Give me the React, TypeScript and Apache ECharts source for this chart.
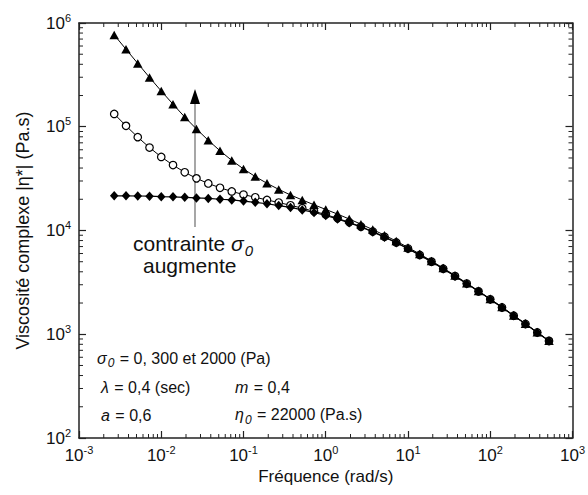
import React, { useEffect, useRef } from "react";
import * as echarts from "echarts";

const frequencies = [0.00268, 0.00373, 0.00518, 0.0072, 0.01, 0.0139, 0.0193, 0.0268, 0.0373, 0.0518, 0.072, 0.1, 0.139, 0.193, 0.268, 0.373, 0.518, 0.72, 1, 1.39, 1.93, 2.68, 3.73, 5.18, 7.2, 10, 13.9, 19.3, 26.8, 37.3, 51.8, 72, 100, 139, 193, 268, 373, 518];

const etaSigma0 = [21600, 21600, 21500, 21400, 21200, 21100, 20900, 20600, 20400, 20000, 19700, 19200, 18700, 18100, 17400, 16700, 15800, 14900, 13950, 12900, 11850, 10800, 9690, 8630, 7620, 6670, 5790, 4990, 4270, 3630, 3070, 2590, 2170, 1810, 1510, 1255, 1040, 862];

const etaSigma300 = [133000, 102000, 79400, 63000, 51200, 42700, 36400, 31800, 28400, 25800, 23800, 22200, 20900, 19700, 18600, 17500, 16400, 15300, 14250, 13100, 12000, 10900, 9770, 8690, 7670, 6700, 5810, 5010, 4280, 3640, 3080, 2590, 2170, 1810, 1510, 1256, 1042, 863];

const etaSigma2000 = [767000, 558000, 408000, 299000, 221000, 165000, 124000, 95200, 74000, 58700, 47400, 39200, 33100, 28500, 24900, 22000, 19700, 17700, 15950, 14400, 12900, 11500, 10200, 9020, 7900, 6870, 5940, 5090, 4340, 3690, 3110, 2610, 2190, 1830, 1520, 1262, 1046, 866];

const xMin = 0.001;
const xMax = 1000;
const yMin = 100;
const yMax = 1000000;

const FONT = "'Liberation Sans', Arial, Helvetica, sans-serif";

const pairs = (ys: number[]) => frequencies.map((f, i) => [f, ys[i]]);

const tickRich = {
  b: { fontSize: 17, lineHeight: 22, color: "#111", fontFamily: FONT },
  s: { fontSize: 11, lineHeight: 11, verticalAlign: "top", color: "#111", fontFamily: FONT },
};

const powLabel = (v: number) => {
  const e = Math.round(Math.log10(v));
  return `{b|10}{s|${e}}`;
};

type Seg = { t: string; size: number; italic?: boolean; dy?: number };

export default function App() {
  const ref = useRef<HTMLDivElement>(null);
  useEffect(() => {
    if (!ref.current) return;
    const chart = echarts.init(ref.current, undefined, { renderer: "svg" });
    const axisLine = { show: true, lineStyle: { color: "#222", width: 1.5 } };
    const majorTick = { show: true, inside: true, length: 7, lineStyle: { color: "#222", width: 1.2 } };
    chart.setOption({
      animation: false,
      backgroundColor: "#fff",
      grid: { left: 79, right: 12, top: 23, bottom: 57, containLabel: false },
      xAxis: [
        {
          type: "log",
          logBase: 10,
          min: xMin,
          max: xMax,
          splitNumber: 6,
          axisLine,
          axisTick: majorTick,
          splitLine: { show: false },
          axisLabel: { formatter: powLabel, rich: tickRich, margin: 6 },
          name: "Fréquence (rad/s)",
          nameLocation: "middle",
          nameGap: 28,
          nameTextStyle: { fontSize: 17, color: "#111", fontFamily: FONT },
        },
        {
          type: "log",
          logBase: 10,
          position: "top",
          min: xMin,
          max: xMax,
          splitNumber: 6,
          axisLine,
          axisTick: majorTick,
          splitLine: { show: false },
          axisLabel: { show: false },
        },
      ],
      yAxis: [
        {
          type: "log",
          logBase: 10,
          min: yMin,
          max: yMax,
          splitNumber: 4,
          axisLine,
          axisTick: majorTick,
          splitLine: { show: false },
          axisLabel: { formatter: powLabel, rich: tickRich, margin: 8 },
          name: "Viscosité complexe |η*| (Pa.s)",
          nameLocation: "middle",
          nameGap: 47,
          nameTextStyle: { fontSize: 18, color: "#111", fontFamily: FONT },
        },
        {
          type: "log",
          logBase: 10,
          position: "right",
          min: yMin,
          max: yMax,
          splitNumber: 4,
          axisLine,
          axisTick: majorTick,
          splitLine: { show: false },
          axisLabel: { show: false },
        },
      ],
      series: [
        {
          name: "σ0 = 300 Pa",
          type: "line",
          data: pairs(etaSigma300),
          symbol: "circle",
          symbolSize: 7.5,
          lineStyle: { color: "#000", width: 1 },
          itemStyle: { color: "#fff", borderColor: "#000", borderWidth: 1.2 },
          z: 2,
        },
        {
          name: "σ0 = 0 Pa",
          type: "line",
          data: pairs(etaSigma0),
          symbol: "diamond",
          symbolSize: [8.5, 9.5],
          lineStyle: { color: "#000", width: 1.2 },
          itemStyle: { color: "#000" },
          z: 3,
        },
        {
          name: "σ0 = 2000 Pa",
          type: "line",
          data: pairs(etaSigma2000),
          symbol: "triangle",
          symbolSize: [9.5, 8.5],
          lineStyle: { color: "#000", width: 1 },
          itemStyle: { color: "#000" },
          z: 4,
        },
      ],
    });

    const toPx = (x: number, y: number) => chart.convertToPixel({ seriesIndex: 0 }, [x, y]) as number[];
    const minorStyle = { stroke: "#222", lineWidth: 1 };
    const elements: any[] = [];
    const [, yBottom] = toPx(xMin, yMin);
    const [, yTop] = toPx(xMin, yMax);
    const [xLeft] = toPx(xMin, yMin);
    const [xRight] = toPx(xMax, yMin);
    for (let e = -3; e < 3; e++) {
      for (let m = 2; m <= 9; m++) {
        const [px] = toPx(m * Math.pow(10, e), yMin);
        elements.push({ type: "line", shape: { x1: px, y1: yBottom, x2: px, y2: yBottom - 4 }, style: minorStyle, silent: true });
        elements.push({ type: "line", shape: { x1: px, y1: yTop, x2: px, y2: yTop + 4 }, style: minorStyle, silent: true });
      }
    }
    for (let e = 2; e < 6; e++) {
      for (let m = 2; m <= 9; m++) {
        const [, py] = toPx(xMin, m * Math.pow(10, e));
        elements.push({ type: "line", shape: { x1: xLeft, y1: py, x2: xLeft + 4, y2: py }, style: minorStyle, silent: true });
        elements.push({ type: "line", shape: { x1: xRight, y1: py, x2: xRight - 4, y2: py }, style: minorStyle, silent: true });
      }
    }

    // arrow "contrainte augmente"
    elements.push({ type: "line", shape: { x1: 195, y1: 227, x2: 195, y2: 100 }, style: { stroke: "#777", lineWidth: 1.3 }, silent: true });
    elements.push({ type: "polygon", shape: { points: [[195, 89], [190, 104], [200, 104]] }, style: { fill: "#000" }, silent: true });

    const ctx = document.createElement("canvas").getContext("2d")!;
    const measure = (s: Seg) => {
      ctx.font = `${s.italic ? "italic " : ""}${s.size}px ${FONT}`;
      return ctx.measureText(s.t).width;
    };
    const line = (x0: number, y: number, segs: Seg[]) => {
      let x = x0;
      segs.forEach((s) => {
        elements.push({
          type: "text",
          x,
          y: y + (s.dy || 0),
          silent: true,
          style: {
            text: s.t,
            fill: "#111",
            fontSize: s.size,
            fontFamily: FONT,
            fontStyle: s.italic ? "italic" : "normal",
            verticalAlign: "middle",
            align: "left",
          },
        });
        x += measure(s) + (s.italic ? 1 : 0);
      });
    };

    line(133, 243, [
      { t: "contrainte ", size: 21 },
      { t: "σ", size: 21, italic: true },
      { t: "0", size: 15, italic: true, dy: 7 },
    ]);
    line(143, 265, [{ t: "augmente", size: 21 }]);

    line(97, 358, [
      { t: "σ", size: 16, italic: true },
      { t: "0", size: 12, italic: true, dy: 5 },
      { t: " = 0, 300 et 2000 (Pa)", size: 16 },
    ]);
    line(101, 387, [
      { t: "λ", size: 16, italic: true },
      { t: " = 0,4 (sec)", size: 16 },
    ]);
    line(235, 387, [
      { t: "m", size: 16, italic: true },
      { t: " = 0,4", size: 16 },
    ]);
    line(101, 415, [
      { t: "a", size: 16, italic: true },
      { t: " = 0,6", size: 16 },
    ]);
    line(235, 414, [
      { t: "η", size: 16, italic: true },
      { t: "0", size: 12, italic: true, dy: 6 },
      { t: " = 22000 (Pa.s)", size: 16 },
    ]);

    chart.setOption({ graphic: { elements } });

    return () => chart.dispose();
  }, []);
  return <div ref={ref} style={{ position: "fixed", left: 0, top: 0, width: 588, height: 495, background: "#fff" }} />;
}
